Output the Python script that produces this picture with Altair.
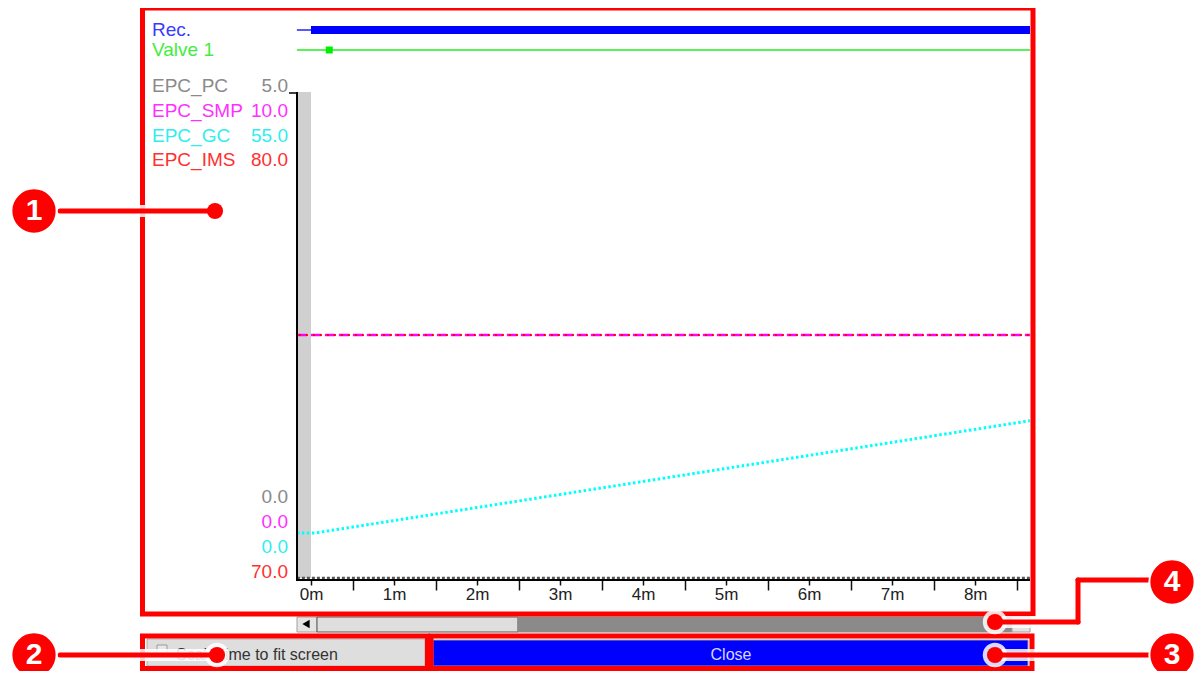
import altair as alt
import pandas as pd

# ---------------- data ----------------
minute_ticks = [0, 1, 2, 3, 4, 5, 6, 7, 8]
half_minute_ticks = [0.5, 1.5, 2.5, 3.5, 4.5, 5.5, 6.5, 7.5, 8.5]
time_domain = [0.0, 8.66]          # minutes visible in the trace window
pre_start = -0.17                  # grey pre-start strip begins here

trace_time = [-0.17, 8.66]
gc_time = [-0.17, 0.05, 8.66]
gc_values = [5.1, 5.1, 17.8]
smp_values = [5.0, 5.0]
ims_values = [75.0, 75.0]
pc_values = [0.0, 0.0]

rec_thin = [-0.17, 0.0]
rec_on = [0.0, 8.66]
valve_span = [-0.17, 8.66]
valve_event = [0.22]

channel_names = ["EPC_PC", "EPC_SMP", "EPC_GC", "EPC_IMS"]
channel_min = [0.0, 0.0, 0.0, 70.0]
channel_max = [5.0, 10.0, 55.0, 80.0]
channel_text_colors = ["#8a8a8a", "#ff30ff", "#30eeee", "#ff3030"]
status_names = ["Rec.", "Valve 1"]
status_colors = ["#3a3aff", "#40ee40"]
button_labels = ["Scale time to fit screen", "Close"]
callout_numbers = ["1", "2", "3", "4"]

# ---------------- layout (page pixels) ----------------
OFF = 8
W, H = 1203 - 2 * OFF, 679 - 2 * OFF
FONT = "Liberation Sans"


def P(v):
    return v - OFF


PLOT_TOP, PLOT_BOTTOM = 92, 578
X_ZERO, X_END = 311, 1030

time_scale = alt.Scale(domain=time_domain, range=[P(X_ZERO), P(X_END)])


def y_scale(i):
    return alt.Scale(domain=[channel_min[i], channel_max[i]], range=[P(PLOT_BOTTOM), P(PLOT_TOP)])


def px(f):
    return alt.X(f, type="quantitative", scale=None, axis=None)


def py(f):
    return alt.Y(f, type="quantitative", scale=None, axis=None)


def shift(rows, cols):
    df = pd.DataFrame(rows)
    for c in cols:
        df[c] = df[c] - OFF
    return df


def rect_layer(rows, **kw):
    df = shift(rows, ["x", "x2", "y", "y2"])
    return alt.Chart(df).mark_rect(**kw).encode(
        x=px("x"), x2="x2:Q", y=py("y"), y2="y2:Q",
        fill=alt.Fill("fill:N", scale=None), stroke=alt.Stroke("stroke:N", scale=None))


def frame_layer(rows, **kw):
    df = shift(rows, ["x", "x2", "y", "y2"])
    return alt.Chart(df).mark_rect(fillOpacity=0, **kw).encode(
        x=px("x"), x2="x2:Q", y=py("y"), y2="y2:Q")


def seg_layer(rows, **kw):
    df = shift(rows, ["x", "x2", "y", "y2"])
    return alt.Chart(df).mark_rule(**kw).encode(x=px("x"), x2="x2:Q", y=py("y"), y2="y2:Q")


def text_layer(rows, **kw):
    df = shift(rows, ["x", "y"])
    return alt.Chart(df).mark_text(baseline="middle", font=FONT, **kw).encode(
        x=px("x"), y=py("y"), text="text:N", color=alt.Color("color:N", scale=None))


def point_layer(rows, **kw):
    df = shift(rows, ["x", "y"])
    return alt.Chart(df).mark_point(**kw).encode(x=px("x"), y=py("y"))


layers = []

# scrollbar and buttons
layers.append(rect_layer([
    dict(x=297, x2=317, y=617, y2=632, fill="#e4e4e4", stroke="#a0a0a0"),
    dict(x=317, x2=518, y=617, y2=632, fill="#dedede", stroke="#555555"),
    dict(x=518, x2=1012, y=617, y2=632, fill="#8a8a8a", stroke="#8a8a8a"),
    dict(x=1012, x2=1030, y=617, y2=632, fill="#e4e4e4", stroke="#a0a0a0"),
    dict(x=147, x2=425, y=639, y2=666, fill="#dedede", stroke="#b0b0b0"),
    dict(x=433, x2=1028, y=640, y2=666, fill="#0000ff", stroke="#9a9a9a"),
    dict(x=157, x2=167, y=645, y2=655, fill="#e8e8e8", stroke="#9a9a9a"),
], strokeWidth=1))
layers.append(point_layer([dict(x=306, y=624)], shape="triangle-left", filled=True,
                          color="black", size=70, opacity=1))

# grey pre-start strip carrying the time axis
axis_common = dict(domain=False, grid=False, title=None, offset=-91, orient="bottom")
band_df = pd.DataFrame({"t": [pre_start], "t2": [0.0]})
layers.append(alt.Chart(band_df).mark_rect(color="#d0d0d0").encode(
    x=alt.X("t:Q", scale=time_scale, axis=alt.Axis(
        values=minute_ticks, labelExpr="datum.value + 'm'", tickSize=5, tickWidth=1.5,
        tickColor="#111", labelFont=FONT, labelFontSize=17, labelColor="#222",
        labelPadding=1, labelFlush=False, labelOverlap=False, labelBound=False, **axis_common)),
    x2="t2:Q", y=alt.value(P(PLOT_TOP)), y2=alt.value(P(PLOT_BOTTOM))))

# traces
pc_df = pd.DataFrame({"t": trace_time, "v": pc_values})
layers.append(alt.Chart(pc_df).mark_line(color="#555555", strokeWidth=2.5, strokeDash=[3, 2]).encode(
    x=alt.X("t:Q", scale=time_scale, axis=None), y=alt.Y("v:Q", scale=y_scale(0), axis=None)))
smp_df = pd.DataFrame({"t": trace_time, "v": smp_values})
layers.append(alt.Chart(smp_df).mark_line(color="#ff00ff", strokeWidth=2.5, strokeDash=[10, 4]).encode(
    x=alt.X("t:Q", scale=time_scale, axis=None), y=alt.Y("v:Q", scale=y_scale(1), axis=None)))
ims_df = pd.DataFrame({"t": trace_time, "v": ims_values})
layers.append(alt.Chart(ims_df).mark_line(color="#ff0000", strokeWidth=2, strokeDash=[2, 5],
                                           strokeDashOffset=-2).encode(
    x=alt.X("t:Q", scale=time_scale, axis=None), y=alt.Y("v:Q", scale=y_scale(3), axis=None)))
gc_df = pd.DataFrame({"t": gc_time, "v": gc_values})
layers.append(alt.Chart(gc_df).mark_line(color="#00ffff", strokeWidth=3, strokeDash=[2.5, 2.5]).encode(
    x=alt.X("t:Q", scale=time_scale, axis=None), y=alt.Y("v:Q", scale=y_scale(2), axis=None)))

# status rows (Rec. / Valve 1), half-minute ticks ride on the thin rec line
rec_thin_df = pd.DataFrame({"t": [rec_thin[0]], "t2": [rec_thin[1]]})
layers.append(alt.Chart(rec_thin_df).mark_rule(color="#2020ff", strokeWidth=1.5).encode(
    x=alt.X("t:Q", scale=time_scale, axis=alt.Axis(
        values=half_minute_ticks, labels=False, tickSize=10, tickWidth=1.5, tickColor="#111",
        **axis_common)),
    x2="t2:Q", y=alt.value(P(30))))
rec_df = pd.DataFrame({"t": [rec_on[0]], "t2": [rec_on[1]]})
layers.append(alt.Chart(rec_df).mark_rect(color="#0000ff").encode(
    x=alt.X("t:Q", scale=time_scale, axis=None), x2="t2:Q",
    y=alt.value(P(26)), y2=alt.value(P(34))))
valve_df = pd.DataFrame({"t": [valve_span[0]], "t2": [valve_span[1]]})
layers.append(alt.Chart(valve_df).mark_rule(color="#22ee22", strokeWidth=1.5).encode(
    x=alt.X("t:Q", scale=time_scale, axis=None), x2="t2:Q", y=alt.value(P(50))))
valve_ev_df = pd.DataFrame({"t": valve_event})
layers.append(alt.Chart(valve_ev_df).mark_square(color="#00ee00", size=49, opacity=1).encode(
    x=alt.X("t:Q", scale=time_scale, axis=None), y=alt.value(P(50))))

# axis lines
layers.append(seg_layer([
    dict(x=297, x2=297, y=PLOT_TOP, y2=581),
    dict(x=296, x2=1030, y=580, y2=580),
], color="black", strokeWidth=2))
layers.append(seg_layer([dict(x=289, x2=297, y=93, y2=93)], color="black", strokeWidth=1.5))

# labels
left_rows = [dict(x=152, y=30, text=status_names[0], color=status_colors[0]),
             dict(x=152, y=50, text=status_names[1], color=status_colors[1])]
top_y = [86, 111, 136, 160]
bot_y = [497, 522, 547, 572]
right_rows = []
for i, n in enumerate(channel_names):
    left_rows.append(dict(x=152, y=top_y[i], text=n, color=channel_text_colors[i]))
    right_rows.append(dict(x=288, y=top_y[i], text=f"{channel_max[i]:.1f}", color=channel_text_colors[i]))
    right_rows.append(dict(x=288, y=bot_y[i], text=f"{channel_min[i]:.1f}", color=channel_text_colors[i]))
layers.append(text_layer(left_rows, align="left", fontSize=19))
layers.append(text_layer(right_rows, align="right", fontSize=19))
layers.append(text_layer([dict(x=176, y=655, text=button_labels[0], color="#333333")],
                         align="left", fontSize=16))
layers.append(text_layer([dict(x=731, y=655, text=button_labels[1], color="#d8d8ff")],
                         align="center", fontSize=16))

# red annotation frames
layers.append(frame_layer([
    dict(x=142.5, x2=1033, y=8, y2=614),
    dict(x=142.5, x2=427.5, y=636, y2=668.5),
    dict(x=431, x2=1032, y=636, y2=668.5),
], stroke="#ff0000", strokeWidth=5))

# callouts
segs = [
    dict(x=60, x2=215, y=211, y2=211),
    dict(x=60, x2=217, y=655, y2=655),
    dict(x=995, x2=1150, y=655, y2=655),
    dict(x=995, x2=1078, y=622, y2=622),
    dict(x=1078, x2=1078, y=622, y2=580),
    dict(x=1078, x2=1152, y=580, y2=580),
]
layers.append(seg_layer(segs, color="white", strokeWidth=12, opacity=0.85, strokeCap="round"))
dots = [dict(x=215, y=211), dict(x=217, y=655), dict(x=995, y=655), dict(x=995, y=622)]
layers.append(point_layer(dots, shape="circle", filled=True, color="white", size=600, opacity=0.85))
layers.append(seg_layer(segs, color="#ff0000", strokeWidth=5, strokeCap="round"))
layers.append(point_layer(dots, shape="circle", filled=True, color="#ff0000", size=260, opacity=1))
circles = [dict(x=34, y=211), dict(x=34, y=655), dict(x=1172, y=655), dict(x=1172, y=582)]
layers.append(point_layer(circles, shape="circle", filled=True, fill="#ff0000", size=2050,
                          stroke="white", strokeWidth=2, opacity=1))
num_rows = [dict(x=c["x"], y=c["y"], text=callout_numbers[i], color="white")
            for i, c in enumerate(circles)]
layers.append(text_layer(num_rows, align="center", fontSize=30, fontWeight="bold"))

chart = alt.layer(*layers).resolve_scale(x="independent", y="independent").properties(
    width=W, height=H, padding=0, autosize=alt.AutoSizeParams(type="none"), background="white"
).configure_view(strokeWidth=0)

chart.save("out.html", embed_options={"renderer": "svg", "actions": False})
